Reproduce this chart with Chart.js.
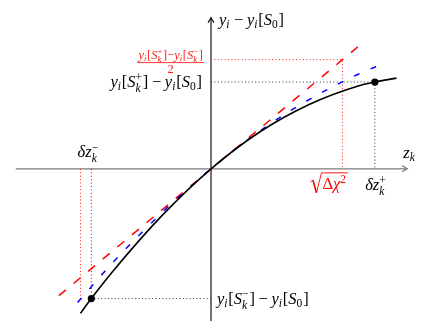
<!DOCTYPE html>
<html><head><meta charset="utf-8">
<script src="https://cdn.jsdelivr.net/npm/chart.js@4"></script>
<style>html,body{margin:0;padding:0;background:#fff;}canvas{display:block;}</style>
</head><body>
<canvas id="c" width="423" height="325"></canvas>
<script>
// ---- data (arbitrary units) ----
const curveZ = [-1.33, -1.22, -1.0, -0.5, 0, 0.5, 1.0, 1.5, 1.67, 1.89];
const curveY = [-1.48, -1.33, -1.05, -0.48, 0, 0.38, 0.66, 0.85, 0.89, 0.93];
const blueZ  = [-1.36, -1.0, -0.5, 0, 0.5, 1.0, 1.5, 1.76];
const blueY  = [-1.37, -0.96, -0.45, 0, 0.39, 0.71, 0.97, 1.08];
const redZ   = [-1.55, 1.52];
const redY   = [-1.30, 1.27];
const pointZ = [-1.22, 1.67];      // delta z_k^-, delta z_k^+
const pointY = [-1.33, 0.89];      // y_i[S_k^-]-y_i[S_0], y_i[S_k^+]-y_i[S_0]
const sqrtChiZ = [-1.33, 1.34];    // -/+ sqrt(delta chi^2)
const halfDiffY = [1.12];          // (y_i[S_k^+]-y_i[S_k^-])/2
const axisRange = {zMin:-1.99, zMax:2.0, yMin:-1.56, yMax:1.55};

const toXY = (zs, ys) => zs.map((z, i) => ({x: z, y: ys[i]}));

const datasets = [
  {data: toXY(pointZ, pointY), showLine:false, pointRadius:3.6, pointBackgroundColor:'#000', pointBorderWidth:0, order:0},
  {data: toXY(curveZ, curveY), showLine:true, borderColor:'#000', borderWidth:1.6, pointRadius:0, cubicInterpolationMode:'monotone', order:1},
  {data: toXY(blueZ, blueY), showLine:true, borderColor:'#0000ff', borderWidth:1.5, borderDash:[6,12], pointRadius:0, cubicInterpolationMode:'monotone', order:2},
  {data: toXY(redZ, redY), showLine:true, borderColor:'#ff0000', borderWidth:1.5, borderDash:[9,10], pointRadius:0, order:3},
  {data: [{x:0,y:pointY[1]},{x:pointZ[1],y:pointY[1]},{x:pointZ[1],y:0}], showLine:true, borderColor:'#333', borderWidth:1, borderDash:[1,2.4], pointRadius:0, tension:0, order:4},
  {data: [{x:0,y:pointY[0]},{x:pointZ[0],y:pointY[0]},{x:pointZ[0],y:0}], showLine:true, borderColor:'#333', borderWidth:1, borderDash:[1,2.4], pointRadius:0, tension:0, order:4},
  {data: [{x:0,y:halfDiffY[0]},{x:sqrtChiZ[1],y:halfDiffY[0]},{x:sqrtChiZ[1],y:0}], showLine:true, borderColor:'#ff2020', borderWidth:1, borderDash:[1,2.4], pointRadius:0, tension:0, order:4},
  {data: [{x:sqrtChiZ[0],y:0},{x:sqrtChiZ[0],y:pointY[0]}], showLine:true, borderColor:'#ff2020', borderWidth:1, borderDash:[1,2.4], pointRadius:0, tension:0, order:4}
];

// ---- rich math text helpers ----
const I = t => ({t, it:true});
const R = t => ({t, it:false});
const SP = e => ({sp:e});
const S = (sub, sup) => ({sub, sup});
function setFont(ctx, it, size){ ctx.font = (it?'italic ':'') + size.toFixed(1) + 'px "Liberation Serif"'; }
function tokW(ctx, tok, size){
  if (tok.sp !== undefined) return tok.sp*size;
  if (tok.sub !== undefined || tok.sup !== undefined){
    const ss = size*0.7;
    const a = tok.sub ? runW(ctx, tok.sub, ss) : 0;
    const b = tok.sup ? runW(ctx, tok.sup, ss) : 0;
    return Math.max(a,b) + size*0.05;
  }
  setFont(ctx, tok.it, size); return ctx.measureText(tok.t).width;
}
function runW(ctx, toks, size){ return toks.reduce((a,t)=>a+tokW(ctx,t,size),0); }
function drawRun(ctx, toks, x, y, size){
  let cx = x;
  for (const tok of toks){
    if (tok.sp !== undefined){ cx += tok.sp*size; continue; }
    if (tok.sub !== undefined || tok.sup !== undefined){
      const ss = size*0.7;
      if (tok.sub) drawRun(ctx, tok.sub, cx, y + size*(tok.sup?0.3:0.2), ss);
      if (tok.sup) drawRun(ctx, tok.sup, cx, y - size*0.38, ss);
      cx += tokW(ctx, tok, size); continue;
    }
    setFont(ctx, tok.it, size); ctx.fillText(tok.t, cx, y); cx += ctx.measureText(tok.t).width;
  }
  return cx;
}
function drawRich(ctx, toks, x, y, size, color, align){
  const w = runW(ctx, toks, size);
  const x0 = align==='right' ? x-w : align==='center' ? x-w/2 : x;
  ctx.fillStyle = color; ctx.textBaseline = 'alphabetic'; ctx.textAlign='left';
  drawRun(ctx, toks, x0, y, size);
  return w;
}
const MINUS = [SP(0.22), R('\u2212'), SP(0.22)];
const labelYAxis = [I('y'), S([I('i')]), ...MINUS, I('y'), S([I('i')]), R('['), I('S'), S([R('0')]), R(']')];
const labelZ = [I('z'), S([I('k')])];
const labelDzMinus = [I('\u03b4'), I('z'), S([I('k')],[R('\u2212')])];
const labelDzPlus = [I('\u03b4'), I('z'), S([I('k')],[R('+')])];
const labelYPlus = [I('y'), S([I('i')]), R('['), I('S'), S([I('k')],[R('+')]), R(']'), ...MINUS, I('y'), S([I('i')]), R('['), I('S'), S([R('0')]), R(']')];
const labelYMinus = [I('y'), S([I('i')]), R('['), I('S'), S([I('k')],[R('\u2212')]), R(']'), ...MINUS, I('y'), S([I('i')]), R('['), I('S'), S([R('0')]), R(']')];
const labelNum = [I('y'), S([I('i')]), R('['), I('S'), S([I('k')],[R('+')]), R(']'), R('\u2212'), I('y'), S([I('i')]), R('['), I('S'), S([I('k')],[R('\u2212')]), R(']')];
const labelDen = [R('2')];
const labelSqrt = [R('\u0394'), I('\u03c7'), S(null,[R('2')])];

const overlay = {
  id:'overlay',
  beforeDatasetsDraw(chart){
    const ctx = chart.ctx, xs = chart.scales.x, ys = chart.scales.y;
    const ox = xs.getPixelForValue(0), oy = ys.getPixelForValue(0);
    ctx.save();
    const xl = xs.getPixelForValue(axisRange.zMin), xr = xs.getPixelForValue(axisRange.zMax);
    ctx.strokeStyle = '#7a7a7a'; ctx.lineWidth = 1.2;
    ctx.beginPath(); ctx.moveTo(xl, oy); ctx.lineTo(xr, oy); ctx.stroke();
    ctx.beginPath(); ctx.moveTo(xr-5, oy-3); ctx.quadraticCurveTo(xr-1.5, oy-0.8, xr, oy); ctx.quadraticCurveTo(xr-1.5, oy+0.8, xr-5, oy+3); ctx.stroke();
    const yb = ys.getPixelForValue(axisRange.yMin), yt = ys.getPixelForValue(axisRange.yMax);
    ctx.strokeStyle = '#000'; ctx.lineWidth = 1.1;
    ctx.beginPath(); ctx.moveTo(ox, yb); ctx.lineTo(ox, yt); ctx.stroke();
    ctx.beginPath(); ctx.moveTo(ox-3, yt+5); ctx.quadraticCurveTo(ox-0.8, yt+1.5, ox, yt); ctx.quadraticCurveTo(ox+0.8, yt+1.5, ox+3, yt+5); ctx.stroke();
    ctx.restore();
  },
  afterDraw(chart){
    const ctx = chart.ctx, xs = chart.scales.x, ys = chart.scales.y;
    const px = v => xs.getPixelForValue(v), py = v => ys.getPixelForValue(v);
    const ox = px(0), oy = py(0);
    ctx.save();
    const F = 16.5;
    drawRich(ctx, labelYAxis, ox+8, py(axisRange.yMax)+7, F, '#000', 'left');
    drawRich(ctx, labelZ, px(axisRange.zMax)-4, oy-11, F, '#000', 'left');
    drawRich(ctx, labelDzMinus, px(pointZ[0])-3, oy-12, F, '#000', 'center');
    drawRich(ctx, labelDzPlus, px(pointZ[1])+1, oy+21, F, '#000', 'center');
    drawRich(ctx, labelYPlus, ox-9, py(pointY[1])+5, F, '#000', 'right');
    drawRich(ctx, labelYMinus, ox+6, py(pointY[0])+5, F, '#000', 'left');
    // fraction
    const fs = 12.5;
    const fy = py(halfDiffY[0]) + 3;
    const nw = runW(ctx, labelNum, fs);
    const fcx = ox - 8 - nw/2;
    drawRich(ctx, labelNum, fcx, fy-4, fs, '#ff2020', 'center');
    ctx.strokeStyle = '#ff2020'; ctx.lineWidth = 0.9;
    ctx.beginPath(); ctx.moveTo(fcx-nw/2-1, fy); ctx.lineTo(fcx+nw/2+1, fy); ctx.stroke();
    drawRich(ctx, labelDen, fcx, fy+10, fs, '#ff2020', 'center');
    // sqrt(Delta chi^2)
    const sF = F;
    const sw = runW(ctx, labelSqrt, sF);
    const rx = px(sqrtChiZ[1]) - 32, rb = oy + 20;
    const rw = 11;
    ctx.strokeStyle = '#ff0000';
    ctx.lineWidth = 0.9;
    ctx.beginPath(); ctx.moveTo(rx, rb-7); ctx.lineTo(rx+2.5, rb-8.5); ctx.stroke();
    ctx.lineWidth = 1.6;
    ctx.beginPath(); ctx.moveTo(rx+2.5, rb-8.5); ctx.lineTo(rx+6, rb+4); ctx.stroke();
    ctx.lineWidth = 0.9;
    ctx.beginPath(); ctx.moveTo(rx+6, rb+4); ctx.lineTo(rx+rw, rb-16); ctx.lineTo(rx+rw+sw+2, rb-16); ctx.stroke();
    drawRich(ctx, labelSqrt, rx+rw+1, rb, sF, '#ff0000', 'left');
    ctx.restore();
  }
};

new Chart(document.getElementById('c'), {
  type:'scatter',
  data:{datasets},
  options:{
    responsive:false, devicePixelRatio:1, animation:false,
    layout:{padding:0},
    plugins:{legend:{display:false}, tooltip:{enabled:false}},
    scales:{
      x:{type:'linear', min:-2.11, max:2.12, display:false},
      y:{type:'linear', min:-1.56, max:1.69, display:false}
    }
  },
  plugins:[overlay]
});
</script>
</body></html>
